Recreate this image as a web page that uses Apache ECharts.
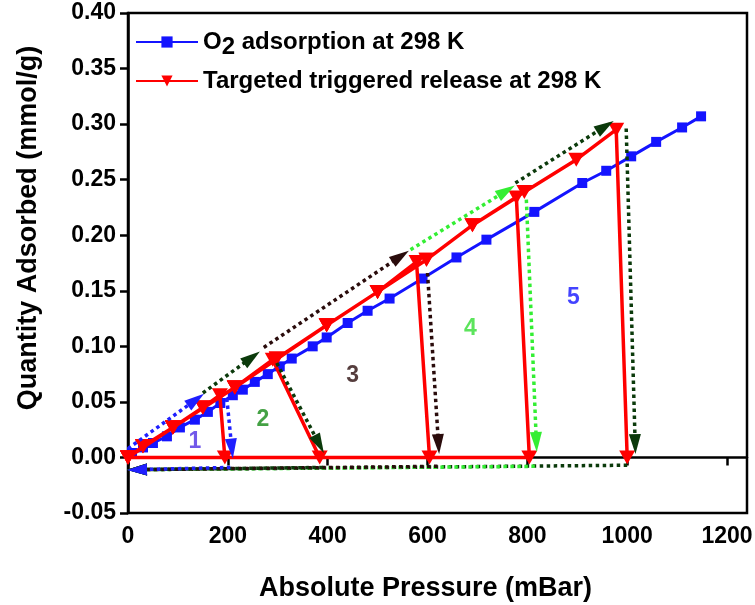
<!DOCTYPE html>
<html lang="en">
<head>
<meta charset="UTF-8">
<title>O2 adsorption and triggered release</title>
<style>
  html, body { margin: 0; padding: 0; background: #fff; }
  #chart { width: 755px; height: 605px; }
</style>
</head>
<body>
<div id="chart"></div>
<script src="https://cdn.jsdelivr.net/npm/echarts@6/dist/echarts.min.js"></script>
<script>
// O2 adsorption isotherm at 298 K (blue squares)
var adsPressure = [8, 30, 50, 78, 104, 134, 160, 185, 210, 230, 254, 280, 304, 328, 370, 398, 440, 480, 524, 590, 658, 718, 814, 910, 958, 1008, 1058, 1110, 1148];
var adsQuantity = [0.004, 0.009, 0.013, 0.019, 0.027, 0.034, 0.041, 0.049, 0.056, 0.061, 0.068, 0.075, 0.082, 0.089, 0.100, 0.108, 0.121, 0.132, 0.143, 0.161, 0.180, 0.196, 0.221, 0.247, 0.258, 0.271, 0.284, 0.297, 0.307];

// targeted triggered release, five load / release cycles (red triangles)
var cycle1 = [[0, 0], [30, 0.010], [90, 0.027], [150, 0.045], [184, 0.056], [194, 0]];
var cycle2 = [[0, 0], [30, 0.010], [90, 0.027], [150, 0.045], [214, 0.063], [290, 0.088], [384, 0]];
var cycle3 = [[0, 0], [30, 0.010], [90, 0.027], [150, 0.045], [214, 0.063], [298, 0.089], [398, 0.119], [500, 0.149], [578, 0.176], [604, 0]];
var cycle4 = [[0, 0], [90, 0.027], [214, 0.063], [298, 0.089], [398, 0.119], [500, 0.149], [598, 0.178], [690, 0.209], [778, 0.234], [804, 0]];
var cycle5 = [[0, 0], [90, 0.027], [214, 0.063], [398, 0.119], [500, 0.149], [598, 0.178], [690, 0.209], [794, 0.239], [898, 0.268], [978, 0.295], [1000, 0]];

// dotted guide arrows for each cycle: load, release, return
var arrowsUp = [[[0, 0.008], [136, 0.052]], [[150, 0.058], [248, 0.090]], [[272, 0.099], [546, 0.181]], [[566, 0.187], [758, 0.240]], [[776, 0.247], [956, 0.298]]];
var arrowsDown = [[[198, 0.053], [208, 0.008]], [[298, 0.085], [383, 0.012]], [[600, 0.166], [622, 0.012]], [[798, 0.232], [818, 0.014]], [[998, 0.296], [1016, 0.012]]];
var arrowsBack = [[[205, -0.009], [18, -0.011]], [[390, -0.009], [18, -0.011]], [[620, -0.008], [18, -0.011]], [[815, -0.008], [18, -0.011]], [[1000, -0.007], [18, -0.011]]];

// cycle numbers
var cycleNames = ['1', '2', '3', '4', '5'];
var cycleLabelAt = [[134, 0.014], [270, 0.034], [450, 0.074], [686, 0.116], [892, 0.144]];

var xTicks = [0, 200, 400, 600, 800, 1000, 1200];
var yTicks = [-0.05, 0, 0.05, 0.10, 0.15, 0.20, 0.25, 0.30, 0.35, 0.40];

var arrowColors = ['#1f1fff', '#0b3a0b', '#2a0c0c', '#33ee33', '#0b3a0b'];
var numberColors = ['#4f2fe3', '#158a15', '#2a0c0c', '#33dd33', '#1414ff'];
var FONT = 'Liberation Sans';

var chart = echarts.init(document.getElementById('chart'));

function zip(xs, ys) {
    return xs.map(function (x, i) { return [x, ys[i]]; });
}

function arrowSeries(list, reverse) {
    var data = list.map(function (seg, i) {
        return { coords: seg, lineStyle: { color: arrowColors[i] } };
    });
    if (reverse) data.reverse();
    return {
        type: 'lines',
        coordinateSystem: 'cartesian2d',
        symbol: ['none', 'triangle'],
        symbolSize: [1, [12, 20]],
        silent: true,
        z: 5,
        lineStyle: { width: 3.5, type: [3.5, 3.5], opacity: 1 },
        data: data
    };
}

var releasePath = [].concat(cycle1, cycle2, cycle3, cycle4, cycle5);

var option = {
    animation: false,
    backgroundColor: '#fff',
    textStyle: { fontFamily: FONT },
    grid: {
        left: 128, right: 8, top: 13, bottom: 92,
        show: true, borderColor: '#000', borderWidth: 2.5,
        outerBoundsMode: 'none'
    },
    legend: {
        orient: 'vertical',
        left: 130, top: 22,
        itemWidth: 62, itemHeight: 14,
        itemGap: 7,
        textStyle: {
            fontFamily: FONT, fontWeight: 'bold', fontSize: 24, color: '#000', lineHeight: 30,
            rich: { sub: { fontFamily: FONT, fontWeight: 'bold', fontSize: 24, padding: [10, 0, 0, 0] } }
        },
        formatter: function (name) { return name.replace('O2', 'O{sub|2}'); },
        data: ['O2 adsorption at 298 K', 'Targeted triggered release at 298 K']
    },
    xAxis: {
        type: 'value', min: 0, max: 1240, interval: 200,
        name: 'Absolute Pressure (mBar)', nameLocation: 'middle', nameGap: 62,
        nameTextStyle: { fontFamily: FONT, fontWeight: 'bold', fontSize: 27, color: '#000', padding: [0, 24, 0, 0] },
        axisLine: { lineStyle: { color: '#000', width: 2.5 } },
        axisTick: { length: 8, lineStyle: { color: '#000', width: 2.5 }, customValues: xTicks },
        axisLabel: {
            margin: 12, fontFamily: FONT, fontWeight: 'bold', fontSize: 23, color: '#000',
            customValues: xTicks,
            formatter: function (v) { return String(v); }
        },
        splitLine: { show: false }
    },
    yAxis: {
        type: 'value', min: -0.05, max: 0.40, interval: 0.05,
        name: 'Quantity Adsorbed (mmol/g)', nameLocation: 'middle', nameGap: 86,
        nameTextStyle: { fontFamily: FONT, fontWeight: 'bold', fontSize: 27, color: '#000', padding: [0, 0, 0, 70] },
        axisLine: { onZero: false, lineStyle: { color: '#000', width: 2.5 } },
        axisTick: { length: 8, lineStyle: { color: '#000', width: 2.5 }, customValues: yTicks },
        axisLabel: {
            margin: 12, fontFamily: FONT, fontWeight: 'bold', fontSize: 23, color: '#000',
            customValues: yTicks,
            formatter: function (v) { return v.toFixed(2); }
        },
        splitLine: { show: false }
    },
    series: [
        {
            name: 'O2 adsorption at 298 K',
            type: 'line',
            data: zip(adsPressure, adsQuantity),
            symbol: 'rect', symbolSize: 10,
            lineStyle: { color: '#1414ff', width: 3 },
            itemStyle: { color: '#1414ff' },
            z: 2
        },
        {
            name: 'Targeted triggered release at 298 K',
            type: 'line',
            data: releasePath,
            symbol: 'path://M0,0 L12,0 L6,11 Z', symbolSize: [16, 14],
            lineStyle: { color: '#ff0000', width: 3.5 },
            itemStyle: { color: '#ff0000' },
            z: 3
        },
        arrowSeries(arrowsBack, true),
        arrowSeries(arrowsUp, false),
        arrowSeries(arrowsDown, false),
        {
            type: 'scatter',
            symbolSize: 0,
            silent: true,
            z: 6,
            data: cycleLabelAt.map(function (p, i) {
                return {
                    value: [p[0], p[1]],
                    label: {
                        show: true, position: 'inside', formatter: cycleNames[i],
                        fontFamily: FONT, fontWeight: 'bold', fontSize: 23, color: numberColors[i]
                    }
                };
            })
        }
    ]
};

chart.setOption(option);
</script>
</body>
</html>
